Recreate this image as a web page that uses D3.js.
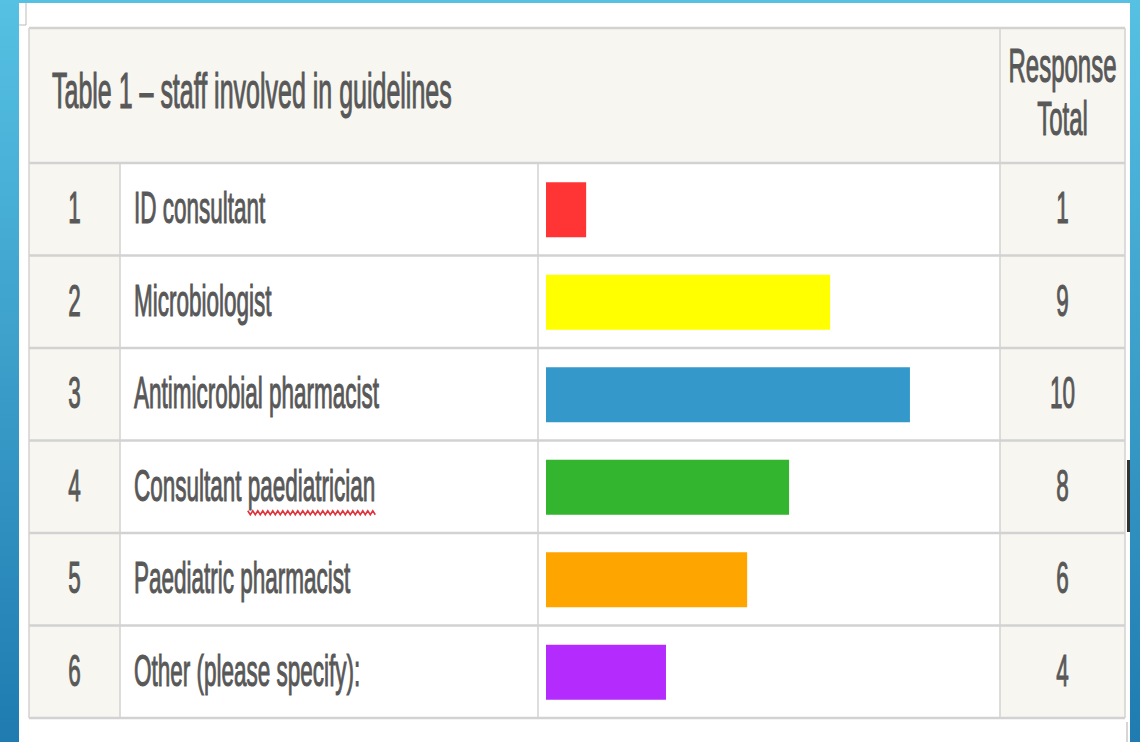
<!DOCTYPE html>
<html lang="en">
<head>
<meta charset="utf-8">
<title>Table 1 - staff involved in guidelines</title>
<script src="https://d3js.org/d3.v7.min.js"></script>
<style>
html, body { margin: 0; padding: 0; }
body { width: 1140px; height: 742px; overflow: hidden; }
text { font-family: "Liberation Sans", Arial, sans-serif; fill: #585858; stroke: #585858; stroke-width: 1.1; }
.grid line { stroke: #d2d2d2; }
</style>
</head>
<body>
<div id="chart"></div>
<script>

// data
var rowNumbers = [1, 2, 3, 4, 5, 6];
var staffRoles = ["ID consultant", "Microbiologist", "Antimicrobial pharmacist",
                  "Consultant paediatrician", "Paediatric pharmacist", "Other (please specify):"];
var responseTotals = [1, 9, 10, 8, 6, 4];
// bar length as drawn, in % of the bar column
var barLengths = [9.0, 63.7, 81.6, 54.5, 45.1, 26.9];
var titleText = "Table 1 \u2013 staff involved in guidelines";
var totalHeader = ["Response", "Total"];

var width = 1140, height = 742;

// column edges of the table
var cols = {left: 29, num: 120, label: 538, bar: 1000, right: 1125};
var headTop = 28, headBottom = 163, tableBottom = 718;
var squeeze = 0.5; // text in the picture is squashed horizontally

var svg = d3.select("#chart").append("svg")
    .attr("width", width)
    .attr("height", height);

var defs = svg.append("defs");
var grad = defs.append("linearGradient")
    .attr("id", "bg")
    .attr("x1", 0).attr("y1", 0).attr("x2", 0).attr("y2", 1);
grad.append("stop").attr("offset", "0%").attr("stop-color", "#56c1e3");
grad.append("stop").attr("offset", "100%").attr("stop-color", "#1f7bb0");

svg.append("rect").attr("width", width).attr("height", height).attr("fill", "url(#bg)");
svg.append("rect")
    .attr("x", 19).attr("y", 3)
    .attr("width", 1130 - 19).attr("height", height - 3)
    .attr("fill", "#fff");

// little corner mark top left
svg.append("path")
    .attr("d", "M19,25H26V3")
    .attr("fill", "none")
    .attr("stroke", "#bbb")
    .attr("stroke-width", 1);

var y = d3.scaleBand()
    .domain(rowNumbers)
    .range([headBottom, tableBottom]);

var x = d3.scaleLinear()
    .domain([0, 100])
    .range([cols.label + 8, cols.bar - 8]);

var color = d3.scaleOrdinal()
    .domain(rowNumbers)
    .range(["#ff3434", "#ffff00", "#3498cb", "#33b52f", "#ffa500", "#b42cfd"]);

var rows = rowNumbers.map(function(n, i) {
    return {n: n, role: staffRoles[i], total: responseTotals[i], bar: barLengths[i]};
});

// cell backgrounds
svg.append("rect")
    .attr("x", cols.left).attr("y", headTop)
    .attr("width", cols.right - cols.left).attr("height", headBottom - headTop)
    .attr("fill", "#f7f6f0");
svg.append("rect")
    .attr("x", cols.left).attr("y", headBottom)
    .attr("width", cols.num - cols.left).attr("height", tableBottom - headBottom)
    .attr("fill", "#f7f6f0");
svg.append("rect")
    .attr("x", cols.bar).attr("y", headBottom)
    .attr("width", cols.right - cols.bar).attr("height", tableBottom - headBottom)
    .attr("fill", "#f7f6f0");

// bars
svg.append("g").selectAll("rect")
    .data(rows)
    .enter().append("rect")
        .attr("x", x(0))
        .attr("y", function(d) { return y(d.n) + y.bandwidth() / 2 - 27; })
        .attr("width", function(d) { return x(d.bar) - x(0); })
        .attr("height", 55)
        .attr("fill", function(d) { return color(d.n); });

// grid
var grid = svg.append("g").attr("class", "grid");
grid.selectAll("line.h")
    .data(rowNumbers.concat(["end"]))
    .enter().append("line")
        .attr("class", "h")
        .attr("x1", cols.left).attr("x2", cols.right)
        .attr("y1", function(d) { return d === "end" ? tableBottom : y(d); })
        .attr("y2", function(d) { return d === "end" ? tableBottom : y(d); })
        .attr("stroke-width", 2.5);
grid.append("line")
    .attr("x1", cols.left).attr("x2", cols.right)
    .attr("y1", headTop).attr("y2", headTop)
    .attr("stroke-width", 2.5);
grid.selectAll("line.v")
    .data([cols.left, cols.right, cols.bar])
    .enter().append("line")
        .attr("class", "v")
        .attr("x1", function(d) { return d; }).attr("x2", function(d) { return d; })
        .attr("y1", headTop).attr("y2", tableBottom)
        .attr("stroke-width", 1.5);
grid.selectAll("line.vb")
    .data([cols.num, cols.label])
    .enter().append("line")
        .attr("class", "vb")
        .attr("x1", function(d) { return d; }).attr("x2", function(d) { return d; })
        .attr("y1", headBottom).attr("y2", tableBottom)
        .attr("stroke-width", 1.5);

function squashed(g, tx, ty, size, anchor, str) {
    return g.append("text")
        .attr("transform", "translate(" + tx + "," + ty + ") scale(" + squeeze + ",1)")
        .attr("font-size", size)
        .attr("text-anchor", anchor)
        .text(str);
}

var labels = svg.append("g");

// header
squashed(labels, 52, 108, 50, "start", titleText);
var midTotal = (cols.bar + cols.right) / 2;
squashed(labels, midTotal, 82, 48, "middle", totalHeader[0]);
squashed(labels, midTotal, 135, 48, "middle", totalHeader[1]);

rows.forEach(function(d) {
    var base = y(d.n) + y.bandwidth() / 2 + 14;
    squashed(labels, (cols.left + cols.num) / 2, base, 45, "middle", d.n);
    var t = squashed(labels, 134, base, 45, "start", d.role);
    squashed(labels, midTotal, base, 45, "middle", d.total);

    // red spell-check squiggle under "paediatrician"
    if (d.role.indexOf("paediatrician") >= 0) {
        var node = t.node();
        var k = d.role.indexOf("paediatrician");
        var x0 = 134 + node.getSubStringLength(0, k) * squeeze;
        var x1 = x0 + node.getSubStringLength(k, "paediatrician".length) * squeeze;
        var pts = [];
        for (var px = x0, up = true; px <= x1; px += 2.5, up = !up) {
            pts.push([px, base + (up ? 10 : 14)]);
        }
        labels.append("path")
            .attr("d", d3.line()(pts))
            .attr("fill", "none")
            .attr("stroke", "#e0333b")
            .attr("stroke-width", 1.6);
    }
});

// marks on the right edge
svg.append("line")
    .attr("x1", 1128.5).attr("x2", 1128.5)
    .attr("y1", 460).attr("y2", 532)
    .attr("stroke", "#333").attr("stroke-width", 3);
svg.append("line")
    .attr("x1", 1127).attr("x2", 1127)
    .attr("y1", 722).attr("y2", height)
    .attr("stroke", "#c8c8c8").attr("stroke-width", 1.5);

</script>
</body>
</html>
